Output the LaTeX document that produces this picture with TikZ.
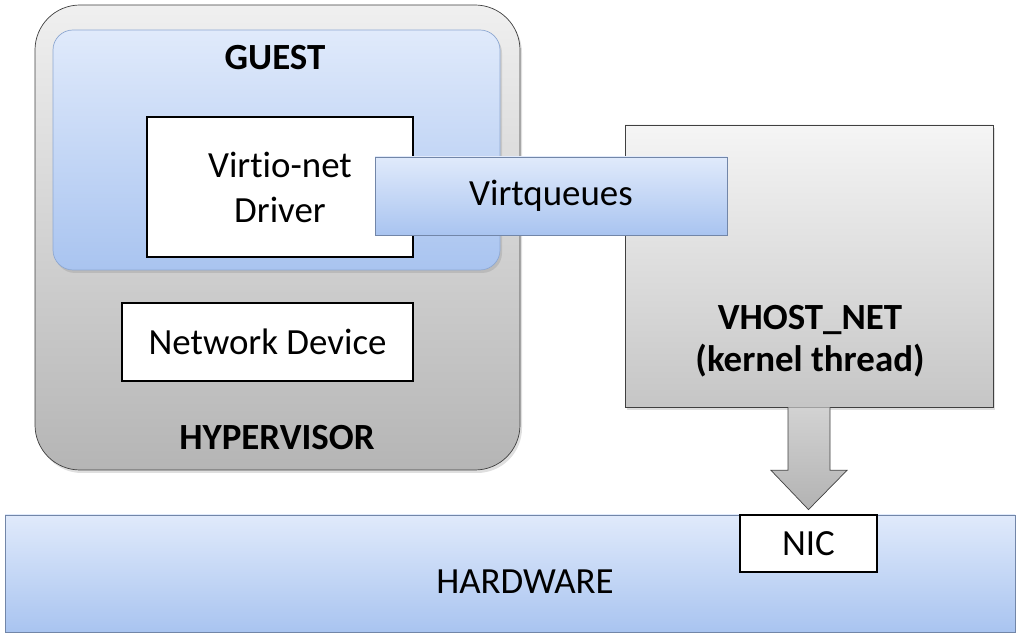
\documentclass[tikz,border=0pt]{standalone}
\usepackage{fontspec}
\setmainfont{Carlito}[Ligatures={NoCommon}]
\usepackage{tikz}
\usetikzlibrary{calc, shadows}

\newdimen\pxu
\pxu=0.02cm

\definecolor{hyperline}{HTML}{404040}
\definecolor{blueline}{HTML}{8EA8D2}
\definecolor{bluetop}{HTML}{E0EAFB}
\definecolor{bluebot}{HTML}{A9C4F0}

\begin{document}
\begin{tikzpicture}[
        x=0.02cm, y=-0.02cm,
        font=\fontsize{21}{25.6}\selectfont,
        softshadow/.style={drop shadow={opacity=0.25, shadow xshift=0.04cm, shadow yshift=-0.06cm}},
        hyperbox/.style={rectangle, draw=hyperline, rounded corners=0.9cm, top color=gray!12, bottom color=gray!58, softshadow},
        guestbox/.style={rectangle, draw=blueline, rounded corners=0.4cm, top color=bluetop, bottom color=bluebot, softshadow},
        whitebox/.style={rectangle, draw=black, fill=white, line width=1.6pt, align=center},
        bluebar/.style={rectangle, draw=blueline!80!black, top color=bluetop, bottom color=bluebot, align=center},
        vhostbox/.style={rectangle, draw=hyperline, top color=gray!8, bottom color=gray!45, softshadow},
        bigarrow/.style={draw=hyperline, top color=gray!35, bottom color=gray!60, line join=miter},
        title/.style={font=\fontsize{21}{24}\selectfont\bfseries, align=center},
    ]
    \useasboundingbox (0,0) rectangle (1018,634);

    % === HYPERVISOR side ===
    \node[hyperbox, minimum width=485\pxu, minimum height=465\pxu] (hyper) at (277.5,237.5) {};
    \node[guestbox, minimum width=447\pxu, minimum height=240\pxu] (guest) at (276.5,150) {};
    \node[title] (guestlabel) at (275,58) {GUEST};
    \node[title] (hyperlabel) at (277,438) {HYPERVISOR};

    \node[whitebox, minimum width=266\pxu, minimum height=140\pxu] (driver) at (280,187) {Virtio-net\\Driver};
    \node[whitebox, minimum width=291\pxu, minimum height=78\pxu] (netdev) at (267.5,342) {Network Device};

    % === HOST side ===
    \node[vhostbox, minimum width=368\pxu, minimum height=282\pxu] (vhost) at (809,266) {};
    \node[title] (vhostlabel) at (810,341) {VHOST\_NET\\(kernel thread)};
    \node[bluebar, minimum width=352\pxu, minimum height=78\pxu] (virtq) at (551,196) {Virtqueues};

    % === HARDWARE ===
    \node[bluebar, minimum width=1010\pxu, minimum height=117\pxu] (hw) at (510,573.5) {};
    \node (hwlabel) at (525,582) {HARDWARE};
    \node[whitebox, minimum width=137\pxu, minimum height=57\pxu] (nic) at (808.5,543.5) {NIC};

    % block arrow vhost -> NIC
    \draw[bigarrow] ($(vhost.south)+(-21,0)$) -- ++(0,63) -- ++(-17,0)
        -- ($(nic.north)+(0,-4)$) -- ($(vhost.south)+(38,63)$) -- ++(-17,0) -- ($(vhost.south)+(21,0)$);

\end{tikzpicture}
\end{document}
